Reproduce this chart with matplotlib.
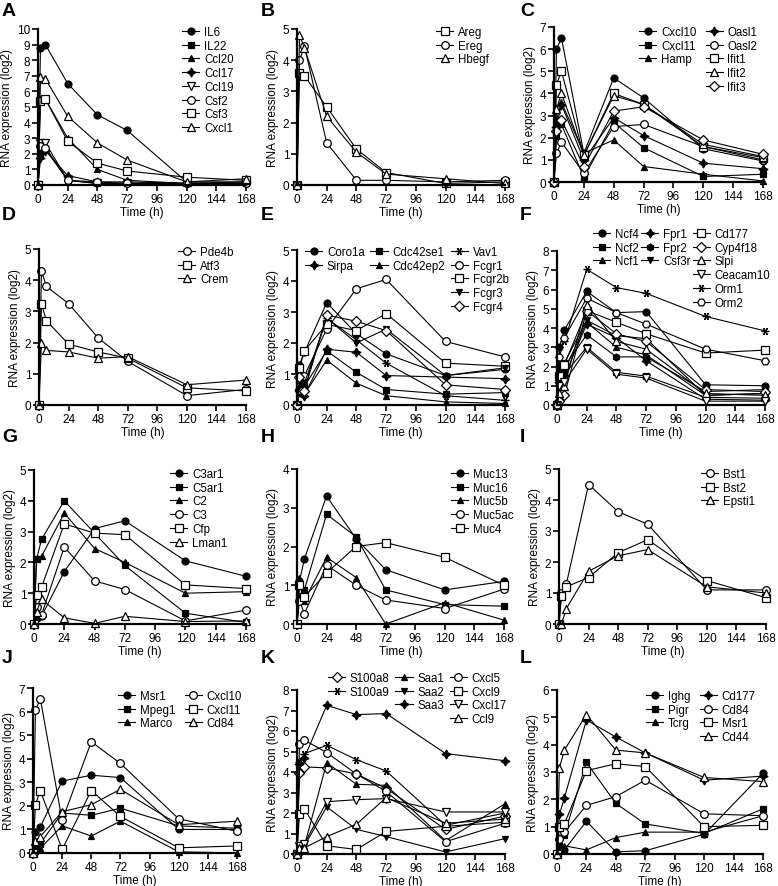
import matplotlib
matplotlib.use("Agg")
import matplotlib.pyplot as plt

plt.rcParams['font.family'] = ['Liberation Sans', 'DejaVu Sans']

time_h = [0, 2, 6, 24, 48, 72, 120, 168]
xticks = [0, 24, 48, 72, 96, 120, 144, 168]

# ---- data (log2 RNA expression) ----
genes_a = ["IL6", "IL22", "Ccl20", "Ccl17", "Ccl19", "Csf2", "Csf3", "Cxcl1"]
vals_a = [
    [0, 8.8, 9.0, 6.5, 4.5, 3.5, 0.2, 0.2],
    [0, 2.0, 2.3, 0.3, 0.1, 0.1, 0.1, 0.1],
    [0, 5.5, 5.5, 3.0, 1.0, 0.3, 0.1, 0.2],
    [0, 1.7, 2.2, 0.6, 0.2, 0.2, 0.1, 0.1],
    [0, 2.7, 2.7, 0.3, 0.1, 0.1, 0.1, 0.1],
    [0, 2.5, 2.4, 0.3, 0.2, 0.1, 0.1, 0.1],
    [0, 5.4, 5.5, 2.8, 1.4, 0.9, 0.5, 0.3],
    [0, 6.9, 6.8, 4.4, 2.7, 1.6, 0.2, 0.4],
]

genes_b = ["Areg", "Ereg", "Hbegf"]
vals_b = [
    [0, 3.6, 3.5, 2.5, 1.15, 0.4, 0.05, 0.1],
    [0, 4.0, 4.45, 1.35, 0.15, 0.15, 0.1, 0.15],
    [0, 4.8, 4.4, 2.2, 1.05, 0.35, 0.2, 0.05],
]

genes_c = ["Cxcl10", "Cxcl11", "Hamp", "Oasl1", "Oasl2", "Ifit1", "Ifit2", "Ifit3"]
vals_c = [
    [0, 6.0, 6.5, 1.3, 4.7, 3.8, 1.5, 0.95],
    [0, 2.1, 2.6, 0.2, 2.7, 1.55, 0.25, 0.35],
    [0, 2.8, 3.6, 1.3, 1.9, 0.7, 0.35, 0.05],
    [0, 2.5, 3.5, 1.0, 2.9, 2.1, 0.85, 0.6],
    [0, 1.3, 1.8, 0.4, 2.5, 2.6, 1.6, 1.0],
    [0, 4.4, 5.0, 1.2, 4.0, 3.5, 1.6, 1.1],
    [0, 3.3, 4.0, 1.2, 3.9, 3.5, 1.7, 1.15],
    [0, 2.3, 2.8, 0.7, 3.2, 3.4, 1.9, 1.25],
]

genes_d = ["Pde4b", "Atf3", "Crem"]
vals_d = [
    [0, 4.3, 3.8, 3.25, 2.15, 1.4, 0.3, 0.5],
    [0, 3.25, 2.7, 1.95, 1.7, 1.5, 0.55, 0.45],
    [0, 2.0, 1.75, 1.7, 1.5, 1.55, 0.65, 0.8],
]

genes_e = ["Coro1a", "Sirpa", "Cdc42se1", "Cdc42ep2", "Vav1", "Fcgr1", "Fcgr2b", "Fcgr3", "Fcgr4"]
vals_e = [
    [0, 1.3, 1.7, 3.3, 2.3, 1.65, 0.95, 1.15],
    [0, 0.5, 0.3, 1.8, 1.7, 0.95, 0.9, 0.85],
    [0, 0.7, 0.6, 1.75, 1.05, 0.5, 0.35, 0.4],
    [0, 0.4, 0.35, 1.45, 0.7, 0.3, 0.1, 0.05],
    [0, 0.9, 0.6, 2.8, 2.1, 1.35, 0.3, 0.15],
    [0, 0.5, 0.95, 2.45, 3.75, 4.05, 2.05, 1.55],
    [0, 1.2, 1.75, 2.6, 2.4, 2.95, 1.35, 1.25],
    [0, 0.6, 0.7, 2.8, 2.0, 2.45, 0.95, 1.2],
    [0, 0.9, 0.45, 2.9, 2.7, 2.4, 0.65, 0.5],
]

genes_f = ["Ncf4", "Ncf2", "Ncf1", "Fpr1", "Fpr2", "Csf3r",
           "Cd177", "Cyp4f18", "Slpi", "Ceacam10", "Orm1", "Orm2"]
vals_f = [
    [0, 3.0, 3.9, 5.9, 4.8, 4.85, 1.05, 1.0],
    [0, 1.3, 1.6, 3.0, 1.7, 1.5, 0.4, 0.35],
    [0, 1.5, 1.8, 4.3, 3.0, 2.6, 0.5, 0.6],
    [0, 1.2, 1.5, 4.2, 3.5, 2.3, 0.3, 0.25],
    [0, 2.0, 2.0, 3.65, 2.5, 2.5, 0.7, 0.8],
    [0, 1.8, 2.2, 4.4, 3.6, 3.45, 0.5, 0.6],
    [0, 1.5, 2.1, 4.9, 4.3, 3.7, 2.7, 2.85],
    [0, 0.2, 0.5, 4.9, 3.7, 3.3, 0.8, 0.7],
    [0, 0.6, 1.0, 5.2, 3.3, 2.9, 0.6, 0.5],
    [0, 1.0, 1.2, 2.9, 1.6, 1.4, 0.2, 0.2],
    [0, 3.0, 3.3, 7.05, 6.1, 5.8, 4.6, 3.85],
    [0, 2.5, 3.5, 5.55, 4.8, 4.2, 2.9, 2.3],
]

genes_g = ["C3ar1", "C5ar1", "C2", "C3", "Cfp", "Lman1"]
vals_g = [
    [0, 0.2, 0.25, 1.7, 3.1, 3.35, 2.05, 1.55],
    [0, 2.1, 2.75, 4.0, 2.95, 1.9, 0.35, 0.05],
    [0, 2.15, 2.2, 3.6, 2.45, 2.0, 1.0, 1.05],
    [0, 0.55, 0.3, 2.5, 1.4, 1.12, 0.1, 0.45],
    [0, 0.95, 1.2, 3.25, 2.95, 2.9, 1.27, 1.15],
    [0, 0.4, 0.8, 0.2, 0.02, 0.25, 0.08, 0.1],
]

genes_h = ["Muc13", "Muc16", "Muc5b", "Muc5ac", "Muc4"]
vals_h = [
    [0, 1.1, 1.68, 3.3, 2.2, 1.4, 0.88, 1.1],
    [0, 0.7, 0.88, 2.83, 2.25, 0.88, 0.5, 0.46],
    [0, 1.2, 0.6, 1.72, 1.2, 0.0, 0.55, 0.1],
    [0, 0.6, 0.27, 1.52, 1.0, 0.62, 0.4, 0.9],
    [0, 1.0, 0.7, 1.32, 2.0, 2.1, 1.72, 1.0],
]

genes_i = ["Bst1", "Bst2", "Epsti1"]
vals_i = [
    [0, 1.0, 1.3, 4.5, 3.62, 3.22, 1.1, 1.1],
    [0, 0.9, 1.2, 1.5, 2.3, 2.72, 1.4, 0.85],
    [0, 0.0, 0.5, 1.7, 2.2, 2.4, 1.2, 1.0],
]

genes_j = ["Msr1", "Mpeg1", "Marco", "Cxcl10", "Cxcl11", "Cd84"]
vals_j = [
    [0, 0.9, 1.1, 3.05, 3.3, 3.2, 1.0, 1.0],
    [0, 0.3, 0.4, 1.7, 1.6, 1.9, 1.15, 1.05],
    [0, 0.1, 0.2, 1.15, 0.72, 1.35, 0.05, 0.0],
    [0, 6.05, 6.55, 1.38, 4.72, 3.8, 1.45, 0.92],
    [0, 2.05, 2.65, 0.15, 2.65, 1.55, 0.22, 0.3],
    [0, 0.5, 0.7, 1.75, 2.05, 2.7, 1.2, 1.35],
]

genes_k = ["S100a8", "S100a9", "Saa1", "Saa2", "Saa3", "Cxcl5", "Cxcl9", "Cxcl17", "Ccl9"]
vals_k = [
    [0, 3.95, 4.25, 4.2, 3.9, 3.2, 1.2, 1.85],
    [0, 4.5, 4.9, 5.3, 4.6, 4.05, 1.4, 2.0],
    [0, 0.3, 0.4, 4.45, 3.4, 3.35, 0.65, 2.45],
    [0, 0.2, 0.4, 2.3, 1.2, 0.85, 0.1, 0.75],
    [0, 4.4, 4.7, 7.25, 6.8, 6.85, 4.9, 4.55],
    [0, 5.35, 5.55, 4.95, 3.9, 3.05, 0.6, 1.5],
    [0, 1.95, 2.2, 0.4, 0.22, 1.1, 1.35, 1.55],
    [0, 0.4, 0.5, 2.55, 2.65, 2.7, 2.05, 2.05],
    [0, 0.3, 0.3, 0.85, 1.45, 2.75, 1.5, 1.7],
]

genes_l = ["Ighg", "Pigr", "Tcrg", "Cd177", "Cd84", "Msr1", "Cd44"]
vals_l = [
    [0, 0.1, 0.15, 1.2, 0.08, 0.12, 0.72, 2.95],
    [0, 0.3, 0.7, 3.35, 1.85, 1.1, 0.75, 1.65],
    [0, 0.3, 0.3, 0.15, 0.6, 0.8, 0.8, 1.4],
    [0, 1.45, 2.05, 4.9, 4.28, 3.7, 2.7, 2.85],
    [0, 0.55, 0.8, 1.78, 2.1, 2.7, 1.47, 1.4],
    [0, 1.0, 1.1, 3.05, 3.3, 3.2, 1.0, 1.05],
    [0, 3.15, 3.8, 5.1, 3.8, 3.7, 2.8, 2.65],
]

# ---- marker styles: (marker, filled) ----
STAR = (4, 1, 0)
AST = (6, 2, 30)
mk_a = [("o", 1), ("s", 1), ("^", 1), (STAR, 1), ("v", 0), ("o", 0), ("s", 0), ("^", 0)]
mk_b = [("s", 0), ("o", 0), ("^", 0)]
mk_c = [("o", 1), ("s", 1), ("^", 1), (STAR, 1), ("o", 0), ("s", 0), ("^", 0), ("D", 0)]
mk_d = [("o", 0), ("s", 0), ("^", 0)]
mk_e = [("o", 1), (STAR, 1), ("s", 1), ("^", 1), (AST, 0), ("o", 0), ("s", 0), ("v", 1), ("D", 0)]
mk_f = [("o", 1), ("s", 1), ("^", 1), (STAR, 1), ("h", 1), ("v", 1),
        ("s", 0), ("D", 0), ("^", 0), ("v", 0), (AST, 0), ("H", 0)]
mk_g = [("o", 1), ("s", 1), ("^", 1), ("o", 0), ("s", 0), ("^", 0)]
mk_h = [("o", 1), ("s", 1), ("^", 1), ("o", 0), ("s", 0)]
mk_i = [("o", 0), ("s", 0), ("^", 0)]
mk_j = [("o", 1), ("s", 1), ("^", 1), ("o", 0), ("s", 0), ("^", 0)]
mk_k = [("D", 0), (AST, 0), ("^", 1), ("v", 1), (STAR, 1), ("o", 0), ("s", 0), ("v", 0), ("^", 0)]
mk_l = [("o", 1), ("s", 1), ("^", 1), (STAR, 1), ("o", 0), ("s", 0), ("^", 0)]

W, H = 778, 887
fig = plt.figure(figsize=(W / 100, H / 100), dpi=100)

# panel: letter, genes, values, markers, ymax, box px (left, right, top, bottom),
# legend anchor px (x, y), legend columns (list of column lengths), column spacing
panels = [
    ("A", genes_a, vals_a, mk_a, 10, (38, 246, 30, 186), (182, 27), [8], 0.8),
    ("B", genes_b, vals_b, mk_b, 5, (297, 505, 30, 186), (436, 27), [3], 0.8),
    ("C", genes_c, vals_c, mk_c, 7, (554, 763, 28, 183), (639, 27), [3, 5], 0.8),
    ("D", genes_d, vals_d, mk_d, 5, (39, 246, 250, 406), (436 - 258, 247), [3], 0.8),
    ("E", genes_e, vals_e, mk_e, 5, (297, 505, 251, 406), (305, 247), [2, 2, 5], 0.5),
    ("F", genes_f, vals_f, mk_f, 8, (557, 765, 252, 406), (593, 229), [3, 3, 6], 0.2),
    ("G", genes_g, vals_g, mk_g, 5, (34, 246, 471, 625), (170, 469), [6], 0.8),
    ("H", genes_h, vals_h, mk_h, 4, (297, 504, 470, 625), (451, 469), [5], 0.8),
    ("I", genes_i, vals_i, mk_i, 5, (559, 766, 470, 625), (701, 469), [3], 0.8),
    ("J", genes_j, vals_j, mk_j, 7, (33, 237, 689, 854), (118, 691), [3, 3], 0.8),
    ("K", genes_k, vals_k, mk_k, 8, (297, 505, 691, 855), (328, 673), [2, 3, 4], 0.5),
    ("L", genes_l, vals_l, mk_l, 6, (557, 763, 691, 855), (646, 691), [3, 4], 0.8),
]

letter_y = [12, 12, 12, 215, 215, 215, 437, 437, 437, 659, 659, 659]
letter_x = [2, 261, 520, 2, 261, 520, 2, 261, 520, 2, 261, 520]

for n, (letter, genes, vals, mks, ymax, box, lg, cols, csp) in enumerate(panels):
    l, r, t, b = box
    ax = fig.add_axes([l / W, 1 - b / H, (r - l) / W, (b - t) / H])
    handles = []
    for g, v, (m, filled) in zip(genes, vals, mks):
        ms = 5.5 if not filled else 5
        if m == STAR:
            ms = 6.5
        h, = ax.plot(time_h, v, color="black", lw=0.8, marker=m, ms=ms,
                     mfc="black" if filled else "white", mec="black", mew=0.9,
                     clip_on=False, label=g)
        handles.append(h)
    ax.set_xlim(0, 168)
    ax.set_ylim(0, ymax)
    ax.set_xticks(xticks)
    ax.set_yticks(range(0, ymax + 1))
    for s in ["top", "right"]:
        ax.spines[s].set_visible(False)
    for s in ["left", "bottom"]:
        ax.spines[s].set_linewidth(1.6)
    ax.tick_params(length=4, width=1.2, labelsize=8.5, pad=1.5)
    ax.set_xlabel("Time (h)", fontsize=8.5, labelpad=1)
    ax.set_ylabel("RNA expression (log2)", fontsize=8.5, labelpad=3)

    # legend laid out column-wise, padded with blank entries
    nrow = max(cols)
    lh, ll = [], []
    i = 0
    for c in cols:
        for k in range(nrow):
            if k < c:
                lh.append(handles[i])
                ll.append(genes[i])
                i += 1
            else:
                blank, = ax.plot([], [], alpha=0)
                lh.append(blank)
                ll.append("")
    ax.legend(lh, ll, ncol=len(cols), loc="upper left",
              bbox_to_anchor=(lg[0] / W, 1 - lg[1] / H), bbox_transform=fig.transFigure,
              frameon=False, fontsize=8.3, handlelength=1.5, handletextpad=0.4,
              labelspacing=0.15, columnspacing=csp, borderpad=0, borderaxespad=0)

    fig.text(letter_x[n] / W, 1 - letter_y[n] / H, letter, fontsize=14,
             fontweight="bold", ha="left", va="center")

fig.savefig("out.png", dpi=100)
